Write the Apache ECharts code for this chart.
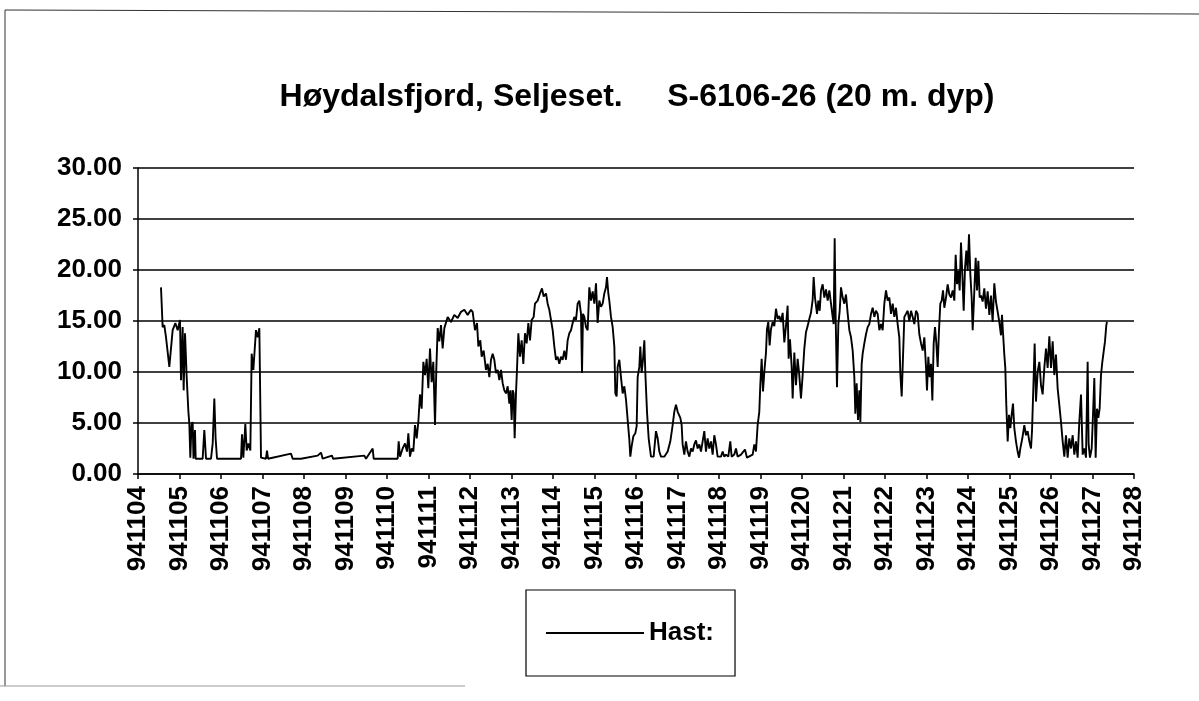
<!DOCTYPE html>
<html>
<head>
<meta charset="utf-8">
<script src="https://cdn.jsdelivr.net/npm/echarts@6/dist/echarts.min.js"></script>
<style>html,body{margin:0;padding:0;background:#fff;}#c{width:1199px;height:701px;}</style>
</head>
<body>
<div id="c"></div>
<script>
const dateLabels = ['941104','941105','941106','941107','941108','941109','941110','941111','941112','941113','941114','941115','941116','941117','941118','941119','941120','941121','941122','941123','941124','941125','941126','941127','941128'];
const yTicks = [0,5,10,15,20,25,30];

const dayPos = [
0.554,0.594,0.634,0.675,0.755,0.835,0.900,0.956,1.012,1.036,1.076,1.100,1.133,1.173,1.213,1.237,1.261,1.289,1.317,1.337,1.357,1.373,1.390,1.438,1.558,1.598,1.639,1.759,1.800,1.839,1.870,1.904,2.482,2.506,2.538,2.586,2.619,2.659,2.707,2.739,2.779,2.843,2.884,2.924,2.964,3.084,3.108,3.133,3.687,3.727,
3.928,4.329,4.410,4.450,4.675,4.699,5.454,5.494,5.655,5.679,6.257,6.281,6.313,6.377,6.434,6.482,6.514,6.554,6.594,6.635,6.675,6.715,6.755,6.795,6.835,6.876,6.916,6.956,6.996,7.036,7.076,7.116,7.157,7.189,7.221,7.261,7.301,7.341,7.382,7.462,7.542,7.622,7.703,7.783,7.863,7.944,
8.024,8.064,8.120,8.169,8.201,8.249,8.281,8.329,8.385,8.426,8.466,8.506,8.546,8.586,8.626,8.667,8.707,8.747,8.787,8.827,8.867,8.908,8.948,8.972,9.004,9.028,9.052,9.076,9.108,9.132,9.165,9.205,9.245,9.285,9.325,9.365,9.406,9.446,9.486,9.534,9.566,9.630,9.687,9.735,9.775,9.831,9.871,9.911,9.952,9.992,
10.032,10.072,10.112,10.152,10.193,10.233,10.273,10.313,10.353,10.393,10.434,10.474,10.514,10.554,10.594,10.634,10.675,10.699,10.723,10.755,10.795,10.835,10.875,10.916,10.956,10.996,11.036,11.076,11.116,11.156,11.197,11.237,11.277,11.301,11.333,11.357,11.397,11.438,11.478,11.502,11.534,11.558,11.598,11.638,11.679,11.719,11.759,11.799,11.839,11.863,11.895,11.936,11.984,12.016,12.040,12.080,12.104,12.136,12.168,12.201,
12.224,12.265,12.305,12.361,12.425,12.481,12.522,12.562,12.602,12.682,12.763,12.827,12.883,12.923,12.963,13.004,13.068,13.100,13.124,13.164,13.204,13.244,13.285,13.325,13.365,13.405,13.445,13.485,13.526,13.566,13.606,13.646,13.686,13.726,13.767,13.807,13.847,13.887,13.927,13.967,14.048,14.088,14.128,14.168,14.224,14.272,14.305,14.369,14.409,14.449,14.530,14.626,14.674,14.811,14.851,14.891,14.931,14.971,14.995,15.028,15.060,15.092,15.132,15.156,15.188,15.220,15.252,15.293,15.333,15.373,15.413,15.453,15.493,15.534,15.574,15.614,15.654,15.678,15.710,15.750,15.775,15.815,15.855,15.895,15.935,15.975,16.016,16.056,16.096,16.136,16.176,16.216,16.257,
16.281,16.313,16.362,16.394,16.426,16.458,16.498,16.538,16.578,16.619,16.659,16.699,16.739,16.763,16.787,16.811,16.843,16.876,16.908,16.940,16.980,17.020,17.060,17.101,17.141,17.181,17.221,17.261,17.285,17.317,17.350,17.382,17.406,17.438,17.462,17.502,17.542,17.582,17.623,17.663,17.703,17.743,17.783,17.823,17.864,17.904,17.944,17.984,18.024,18.064,18.104,18.145,18.185,18.225,18.265,18.305,18.345,18.370,18.402,18.434,18.466,18.506,18.546,18.586,18.627,18.667,18.707,18.747,18.787,18.827,18.868,18.908,18.948,18.988,19.012,19.044,19.076,19.109,19.141,19.173,19.205,19.237,19.269,19.301,19.333,19.366,19.398,19.430,19.470,19.510,19.550,19.590,19.631,19.671,19.703,19.735,19.767,19.799,19.831,19.863,19.896,19.928,19.960,19.992,20.024,20.056,20.088,20.113,20.153,20.185,20.217,20.249,20.281,
20.313,20.353,20.393,20.433,20.474,20.514,20.554,20.594,20.634,20.674,20.715,20.755,20.795,20.819,20.843,20.875,20.899,20.923,20.956,20.988,21.020,21.052,21.084,21.116,21.156,21.196,21.229,21.261,21.309,21.357,21.397,21.437,21.478,21.518,21.542,21.574,21.606,21.638,21.678,21.719,21.759,21.799,21.839,21.879,21.919,21.960,22.000,22.040,22.080,22.120,22.160,22.200,22.241,22.281,22.321,22.361,22.401,22.441,22.482,22.522,22.562,22.602,22.642,22.682,22.723,22.763,22.803,22.843,22.883,22.907,22.939,22.980,23.012,23.044,23.076,23.108,23.140,23.172,23.205,23.237,23.269,23.301,23.333,23.349
];

const hast = [
18.3,14.4,14.6,13.4,10.5,14.1,14.8,14.1,15.1,9.2,14.4,8.2,13.8,9.5,6.2,4.9,1.6,4.8,5.1,1.5,1.6,4.3,1.5,1.5,1.5,4.3,1.5,1.5,3.0,7.4,3.5,1.5,1.5,3.9,1.6,4.9,2.3,3.0,2.3,11.8,10.2,14.1,13.4,14.3,1.6,1.5,2.3,1.5,2.0,1.5,
1.5,1.8,2.1,1.5,1.8,1.5,1.8,1.5,2.5,1.5,1.5,3.2,1.7,2.5,3.0,2.2,4.0,1.7,2.5,2.2,4.8,3.5,5.1,7.8,6.4,11.0,9.7,11.3,8.4,12.3,9.0,11.0,4.8,10.4,14.3,13.0,14.6,12.3,14.3,15.4,14.9,15.6,15.3,15.9,16.1,15.6,
16.1,15.9,14.1,14.8,12.5,13.1,11.5,12.1,10.2,10.8,9.5,11.2,11.8,11.2,9.9,10.2,9.2,10.2,8.9,8.2,7.9,8.6,6.9,8.2,5.3,8.2,7.9,3.5,7.9,10.2,13.8,11.5,13.1,10.8,13.8,12.8,14.8,13.1,15.1,15.4,16.7,17.0,17.7,18.2,17.4,17.7,16.7,16.1,15.1,14.1,
12.5,11.2,11.5,10.8,11.5,11.2,12.1,11.2,13.1,13.8,14.1,14.8,15.4,15.1,16.7,17.0,15.7,9.9,15.7,15.4,14.4,14.1,18.3,17.0,17.9,16.7,18.7,14.8,17.0,16.4,16.7,17.7,18.3,19.3,17.7,17.0,15.4,14.4,12.5,7.9,7.6,10.5,11.2,9.5,7.9,8.6,7.3,5.3,3.4,1.7,2.7,3.7,4.0,4.7,9.5,10.5,12.5,9.9,11.2,13.1,
10.0,6.1,3.5,1.7,1.7,4.2,3.5,2.2,1.7,1.7,2.2,3.2,4.8,6.1,6.8,6.1,5.5,4.8,2.9,1.9,3.2,2.2,1.7,2.5,2.2,2.9,3.3,2.5,2.9,2.2,3.2,4.2,2.2,3.5,2.5,3.2,1.9,3.8,2.9,1.7,1.7,2.2,1.7,1.9,1.7,3.2,1.7,1.9,2.5,1.7,1.9,2.4,1.6,1.9,2.9,2.2,4.8,6.1,8.7,11.3,8.1,10.0,11.9,14.2,14.9,12.6,14.2,14.9,14.5,16.2,15.2,15.5,14.9,15.8,12.9,14.5,16.5,11.3,13.2,10.6,7.4,11.9,8.7,11.3,9.7,7.4,9.7,12.3,13.9,14.5,15.2,15.8,17.1,
19.3,17.3,15.7,17.0,16.0,18.0,18.6,17.3,18.1,17.0,18.0,16.7,15.4,14.7,23.1,15.4,8.5,14.7,16.0,18.3,17.3,16.7,17.6,15.7,14.1,13.4,12.1,9.5,5.9,8.9,5.3,8.2,5.1,10.8,11.8,12.8,13.7,14.4,14.7,15.7,16.3,15.4,16.0,15.7,14.1,14.7,14.1,16.7,18.0,17.0,17.3,15.7,16.7,15.4,16.3,14.7,13.4,9.8,7.6,11.5,15.4,15.7,16.0,15.0,16.0,15.4,14.7,16.0,15.7,13.7,12.8,12.1,13.4,10.5,8.2,11.5,9.5,10.8,7.2,12.8,14.4,12.8,10.5,14.1,16.7,17.0,18.0,16.3,17.3,18.6,17.6,17.3,18.0,17.0,21.5,18.6,19.9,18.0,22.7,19.6,16.0,20.2,21.9,19.9,23.5,19.6,17.3,14.1,18.0,21.2,18.0,20.9,17.3,
17.5,16.9,18.2,16.2,17.9,15.6,17.5,14.9,18.7,16.9,15.9,14.9,13.6,15.6,13.9,11.7,10.4,6.8,3.2,5.8,4.5,5.8,6.9,4.5,3.2,2.2,1.6,2.5,3.5,4.8,3.8,4.2,3.2,2.5,4.2,8.4,12.8,7.1,10.0,11.0,8.7,7.8,10.4,12.3,10.4,13.5,10.4,13.0,9.7,11.7,8.4,6.8,5.1,3.2,1.7,3.8,1.6,3.5,2.5,3.8,1.9,3.2,1.6,5.1,7.8,1.9,2.5,1.6,11.0,2.9,1.6,2.5,5.8,9.4,1.6,6.4,5.5,6.4,9.7,11.0,12.0,13.0,14.6,14.9
];

const seriesData = dayPos.map((d, i) => [d, hast[i]]);

const chart = echarts.init(document.getElementById('c'), null, {renderer: 'canvas'});
const txt = '#000';
chart.setOption({
  backgroundColor: '#fff',
  animation: false,
  graphic: [
    {type: 'line', shape: {x1: 5, y1: 10, x2: 5, y2: 686}, style: {stroke: '#333', lineWidth: 1}},
    {type: 'line', shape: {x1: 5, y1: 10, x2: 1199, y2: 14}, style: {stroke: '#333', lineWidth: 1.2}},
    {type: 'line', shape: {x1: 0, y1: 686, x2: 465, y2: 686}, style: {stroke: '#999', lineWidth: 1}},
    {type: 'text', x: 637, y: 97, style: {
      text: 'Høydalsfjord, Seljeset.     S-6106-26 (20 m. dyp)',
      font: 'bold 32px "Liberation Sans", Arial, sans-serif',
      fill: txt, textAlign: 'center', textVerticalAlign: 'middle'
    }}
  ],
  grid: {left: 138, right: 65, top: 168, bottom: 227, containLabel: false},
  legend: {
    left: 526, top: 590,
    orient: 'horizontal',
    padding: [30, 21, 30, 20],
    borderColor: '#000', borderWidth: 1.2,
    itemWidth: 98, itemHeight: 14, itemGap: 10,
    textStyle: {fontSize: 26, fontWeight: 'bold', color: txt, fontFamily: '"Liberation Sans", Arial, sans-serif'},
    data: [{name: 'Hast:', icon: 'path://M0,0 L100,0 L100,2 L0,2 Z', itemStyle: {color: '#000'}}]
  },
  xAxis: {
    type: 'value', min: 0, max: 24, interval: 1,
    axisLine: {show: true, onZero: false, lineStyle: {color: '#000', width: 1.5}},
    axisTick: {show: true, length: 5, lineStyle: {color: '#000', width: 1.5}},
    splitLine: {show: false},
    axisLabel: {
      rotate: 90, margin: 12, color: txt, fontSize: 26, fontWeight: 'bold',
      fontFamily: '"Liberation Sans", Arial, sans-serif',
      formatter: v => dateLabels[Math.round(v)] || ''
    }
  },
  yAxis: {
    type: 'value', min: yTicks[0], max: yTicks[yTicks.length - 1], interval: 5,
    axisLine: {show: true, lineStyle: {color: '#000', width: 1.5}},
    axisTick: {show: true, length: 5, lineStyle: {color: '#000', width: 1.5}},
    splitLine: {show: true, lineStyle: {color: '#000', width: 1.5}},
    axisLabel: {
      margin: 16, color: txt, fontSize: 26, fontWeight: 'bold',
      fontFamily: '"Liberation Sans", Arial, sans-serif',
      formatter: v => v.toFixed(2)
    }
  },
  series: [{
    name: 'Hast:', type: 'line', data: seriesData,
    symbol: 'none', showSymbol: false,
    lineStyle: {color: '#000', width: 1.9},
    itemStyle: {color: '#000'}
  }]
});
</script>
</body>
</html>
